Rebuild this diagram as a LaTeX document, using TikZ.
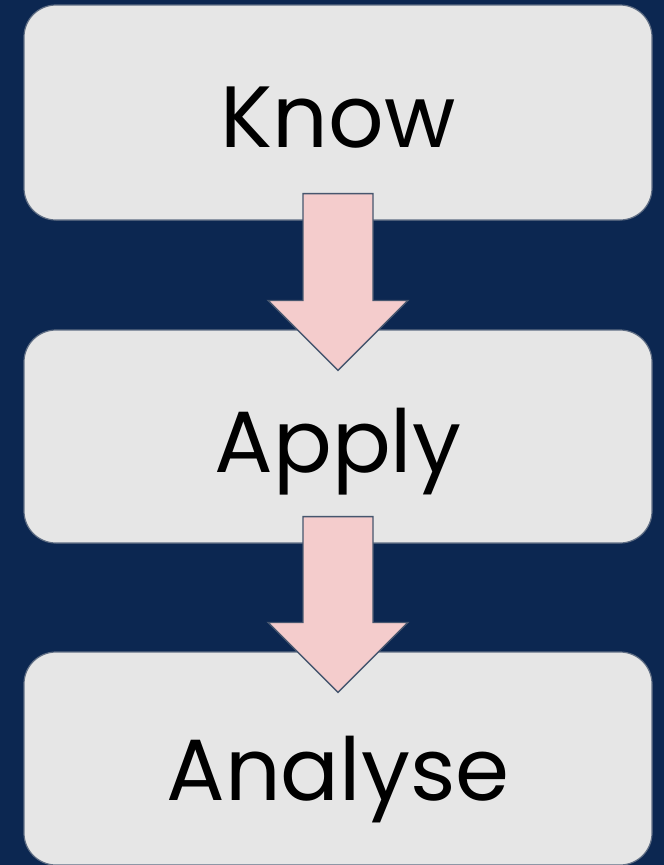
\documentclass[tikz,border=0pt]{standalone}
\usepackage{fontspec}
\setmainfont{Poppins}
\usepackage{tikz}
\usetikzlibrary{calc,positioning}

\definecolor{navy}{RGB}{12,39,81}
\definecolor{boxgrey}{RGB}{230,230,230}
\definecolor{boxedge}{RGB}{96,110,132}
\definecolor{arrpink}{RGB}{244,204,204}
\definecolor{arredge}{RGB}{70,86,110}

\tikzset{
  stage/.style={draw=boxedge,line width=1.2pt,fill=boxgrey,rounded corners=32pt,
    minimum width=628pt,inner sep=0pt},
  word/.style={anchor=base,inner sep=0pt,font=\fontsize{87}{100}\selectfont},
  arr/.style={draw=arredge,line width=1.3pt,fill=arrpink,line join=miter}
}

% block arrow from the bottom of #1 into the top of #2
\newcommand{\blockarr}[2]{%
  \coordinate (#1-top) at ($(#1.south)+(0,-27)$);
  \coordinate (#2-tip) at ($(#2.north)+(0,41)$);
  \draw[arr] ($(#1-top)+(-35,0)$) -- ($(#1-top)+(35,0)$) -- ($(#2-tip)+(35,-70)$)
    -- ($(#2-tip)+(70,-70)$) -- (#2-tip) -- ($(#2-tip)+(-70,-70)$)
    -- ($(#2-tip)+(-35,-70)$) -- cycle;}

\begin{document}
\begin{tikzpicture}[x=1pt,y=-1pt]
    \fill[navy] (0,0) rectangle (664,865);
    \useasboundingbox (0,0) rectangle (664,865);

    \node[stage,minimum height=215pt] (know) at (338,112.5) {};
    \node[stage,minimum height=213pt] (apply) at (338,436.5) {};
    \node[stage,minimum height=213pt] (analyse) at (338,758.5) {};

    \blockarr{know}{apply}
    \blockarr{apply}{analyse}

    \node[word] (knowtxt) at ($(know.center)+(0,34.5)$) {Know};
    \node[word] (applytxt) at ($(apply.center)+(0,35.5)$) {Apply};
    \node[word] (analysetxt) at ($(analyse.center)+(0,41.5)$) {Analyse};
\end{tikzpicture}
\end{document}
